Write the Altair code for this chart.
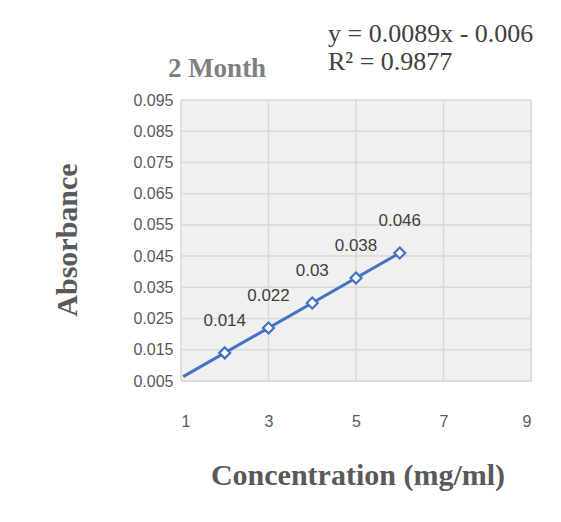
import altair as alt
import pandas as pd

concentration = [2, 3, 4, 5, 6]
absorbance = [0.014, 0.022, 0.030, 0.038, 0.046]
labels = ["0.014", "0.022", "0.03", "0.038", "0.046"]
y_ticks = [0.005, 0.015, 0.025, 0.035, 0.045, 0.055, 0.065, 0.075, 0.085, 0.095]
x_ticks = [1, 3, 5, 7, 9]

df = pd.DataFrame({"conc": concentration, "abs": absorbance, "label": labels})
blue = "#4472c4"
serif = "Liberation Serif"
sans = "Liberation Sans"
grid = "#d9d9d9"

xs = alt.Scale(domain=[1, 9], nice=False)
ys = alt.Scale(domain=[0.005, 0.095], nice=False, zero=False)
x_axis = alt.Axis(values=x_ticks, title=None, domain=False, ticks=False, grid=False,
                  labelPadding=32, labelFont=sans, labelFontSize=16, labelColor="#595959")
y_axis = alt.Axis(values=y_ticks, format=".3f", title=None, domain=False, ticks=False,
                  grid=False, labelPadding=8, labelFont=sans, labelFontSize=16,
                  labelColor="#595959")
x = alt.X("conc:Q", scale=xs, axis=x_axis)
y = alt.Y("abs:Q", scale=ys, axis=y_axis)

base = alt.Chart(df)

bg = alt.Chart(pd.DataFrame({"a": [0]})).mark_rect(fill="#f0f0f0").encode(
    x=alt.value(0), x2=alt.value(350), y=alt.value(0), y2=alt.value(281))
vgrid = alt.Chart(pd.DataFrame({"conc": x_ticks})).mark_rule(color=grid, strokeWidth=1.5).encode(x=x)
hgrid = alt.Chart(pd.DataFrame({"abs": y_ticks})).mark_rule(color=grid, strokeWidth=1.5).encode(y=y)
trend = base.transform_regression("conc", "abs", extent=[1.05, 6]).mark_line(
    color=blue, strokeWidth=3).encode(x=x, y=y)
points = base.mark_point(shape="diamond", filled=True, fill="white", stroke=blue,
                         strokeWidth=2.2, size=120, opacity=1).encode(x=x, y=y)
text = base.mark_text(dy=-32, font=sans, fontSize=17, color="#404040").encode(
    x=x, y=y, text="label:N")

title = alt.Chart(pd.DataFrame({"t": ["2 Month"]})).mark_text(
    font=serif, fontSize=27, fontWeight="bold", color="#7f7f7f").encode(
    x=alt.value(36), y=alt.value(-31), text="t:N")
eq = alt.Chart(pd.DataFrame({"t": ["y = 0.0089x - 0.006"]})).mark_text(
    font=serif, fontSize=26, color="#404040", align="left").encode(
    x=alt.value(147), y=alt.value(-66), text="t:N")
r2 = alt.Chart(pd.DataFrame({"t": ["R² = 0.9877"]})).mark_text(
    font=serif, fontSize=26, color="#404040", align="left").encode(
    x=alt.value(147), y=alt.value(-38), text="t:N")
ytitle = alt.Chart(pd.DataFrame({"t": ["Absorbance"]})).mark_text(
    font=serif, fontSize=30, fontWeight="bold", color="#595959", angle=270).encode(
    x=alt.value(-113), y=alt.value(140), text="t:N")
xtitle = alt.Chart(pd.DataFrame({"t": ["Concentration (mg/ml)"]})).mark_text(
    font=serif, fontSize=30, fontWeight="bold", color="#595959").encode(
    x=alt.value(177), y=alt.value(281 + 95), text="t:N")

chart = (
    alt.layer(bg, vgrid, hgrid, trend, points, text, title, eq, r2, ytitle, xtitle)
    .properties(width=350, height=281, autosize=alt.AutoSizeParams(type="none"),
                padding={"left": 173, "top": 92, "right": 20, "bottom": 130})
    .configure_view(stroke=grid)
    .configure(background="white")
)
chart.save("out.html", embed_options={"renderer": "svg", "actions": False})
